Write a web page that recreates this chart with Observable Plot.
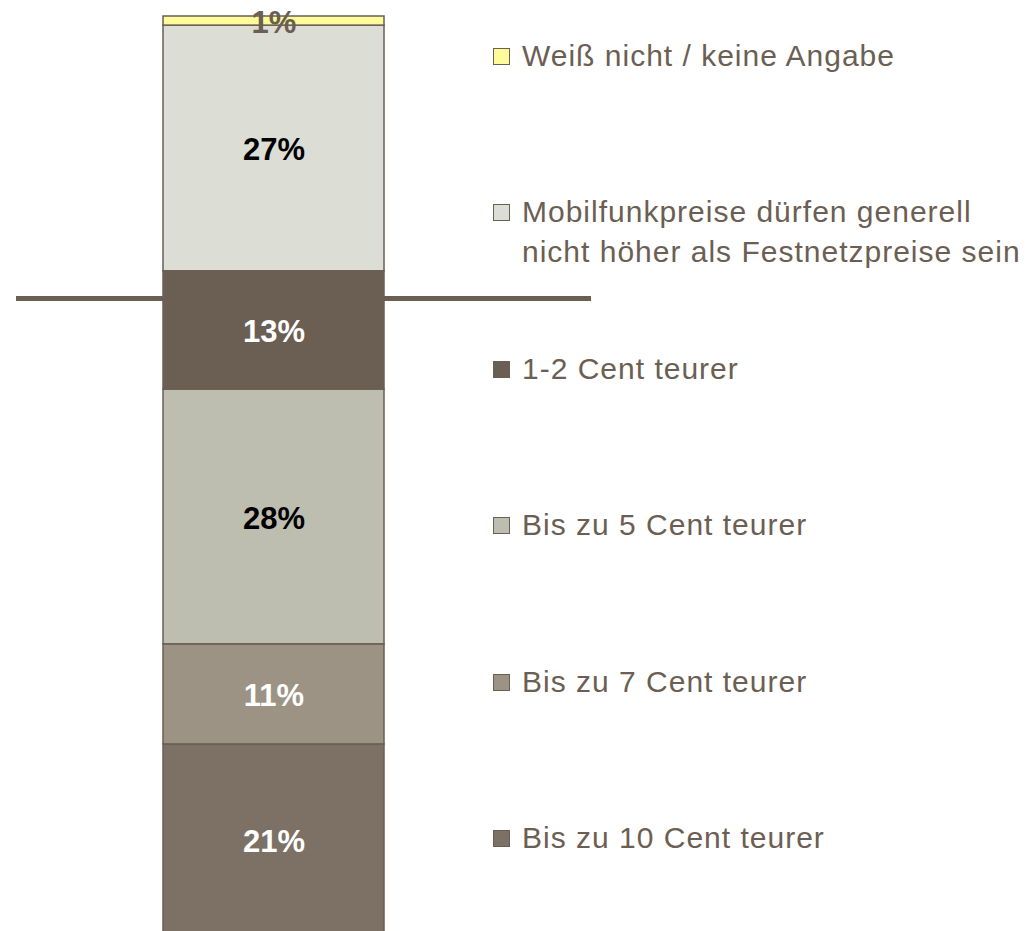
<!DOCTYPE html>
<html>
<head>
<meta charset="utf-8">
<script src="https://cdn.jsdelivr.net/npm/d3@7"></script>
<script src="https://cdn.jsdelivr.net/npm/@observablehq/plot@0.6"></script>
<style>
  html, body { margin: 0; padding: 0; background: #fff; }
  #wrap { position: relative; width: 1032px; height: 931px; overflow: hidden; font-family: "Liberation Sans", Arial, Helvetica, sans-serif; }
  #chart svg { display: block; }
  #legend { position: absolute; left: 493px; top: 36px; }
  .item { display: flex; align-items: flex-start; height: 156.4px; color: #6b5e53; font-size: 30px; letter-spacing: 1px; line-height: 40px; }
  .sw { flex: none; width: 15px; height: 15px; border: 1.5px solid #6b5e53; margin-top: 12px; margin-right: 12px; }
</style>
</head>
<body>
<div id="wrap">
  <div id="chart"></div>
  <div id="legend"></div>
</div>
<script>
// ---- data (bottom to top of the stacked bar) ----
const categories = [
  "Bis zu 10 Cent teurer",
  "Bis zu 7 Cent teurer",
  "Bis zu 5 Cent teurer",
  "1-2 Cent teurer",
  "Mobilfunkpreise dürfen generell nicht höher als Festnetzpreise sein",
  "Weiß nicht / keine Angabe"
];
const legendLines = [
  ["Bis zu 10 Cent teurer"],
  ["Bis zu 7 Cent teurer"],
  ["Bis zu 5 Cent teurer"],
  ["1-2 Cent teurer"],
  ["Mobilfunkpreise dürfen generell", "nicht höher als Festnetzpreise sein"],
  ["Weiß nicht / keine Angabe"]
];
const values = [21, 11, 28, 13, 27, 1];
const colors = ["#7d7166", "#9c9385", "#bdbdb0", "#6b5e53", "#dcddd4", "#fdfb9a"];
const labelColors = ["#ffffff", "#ffffff", "#000000", "#ffffff", "#000000", "#6b5e53"];
const dividerValue = [70];
const group = "Gesamt";

// ---- build table ----
const ends = d3.cumsum(values);
const data = categories.map((c, i) => ({
  group,
  cat: c,
  value: values[i],
  mid: ends[i] - values[i] / 2,
  label: values[i] + "%",
  labelColor: labelColors[i]
}));

const textMark = (color) => Plot.text(data.filter(d => d.labelColor === color), {
  x: "group", y: "mid", text: "label", fill: color,
  fontSize: 31, fontWeight: "bold", fontFamily: "Liberation Sans, Arial, sans-serif",
  letterSpacing: 0.8, dy: 2
});

const chart = Plot.plot({
  width: 1032,
  height: 931,
  margin: 0,
  style: { background: "transparent", overflow: "hidden" },
  x: { type: "band", domain: [group], range: [163, 384], padding: 0, axis: null },
  y: { domain: [0, 101], range: [935, 16], axis: null },
  color: { domain: categories, range: colors },
  marks: [
    Plot.ruleY(dividerValue, { stroke: "#6b5e53", strokeWidth: 5, insetLeft: 16, insetRight: 441 }),
    Plot.barY(data, { x: "group", y: "value", fill: "cat", stroke: "#6b5e53", strokeWidth: 1.5 }),
    ...[...new Set(labelColors)].map(textMark)
  ]
});
document.getElementById("chart").appendChild(chart);

// ---- legend (top to bottom = reverse stack order) ----
const legend = document.getElementById("legend");
for (let i = categories.length - 1; i >= 0; i--) {
  const item = document.createElement("div");
  item.className = "item";
  const sw = document.createElement("div");
  sw.className = "sw";
  sw.style.background = colors[i];
  const txt = document.createElement("div");
  legendLines[i].forEach((line, k) => {
    if (k) txt.appendChild(document.createElement("br"));
    txt.appendChild(document.createTextNode(line));
  });
  item.appendChild(sw);
  item.appendChild(txt);
  legend.appendChild(item);
}
</script>
</body>
</html>
